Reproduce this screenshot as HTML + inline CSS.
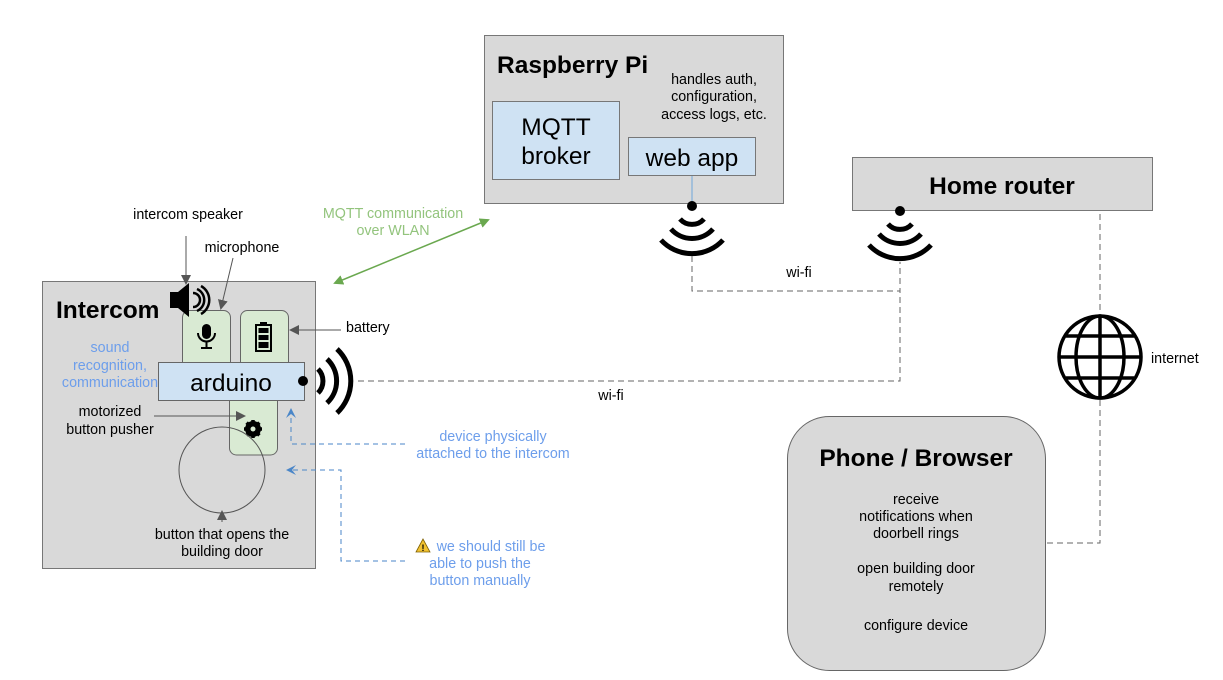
<!DOCTYPE html>
<html><head><meta charset="utf-8"><style>
body{margin:0;background:#fff}
svg{display:block;font-family:"Liberation Sans",Arial,sans-serif}
</style></head><body>
<svg width="1223" height="680" viewBox="0 0 1223 680" xmlns="http://www.w3.org/2000/svg">
<defs>
<marker id="ag" markerWidth="10" markerHeight="10" refX="8" refY="5" orient="auto-start-reverse" markerUnits="userSpaceOnUse"><path d="M0,0 L10,5 L0,10 z" fill="#6aa84f"/></marker>
<marker id="ak" markerWidth="10" markerHeight="10" refX="8" refY="5" orient="auto" markerUnits="userSpaceOnUse"><path d="M0,0 L10,5 L0,10 z" fill="#555"/></marker>
<marker id="ab" markerWidth="10" markerHeight="10" refX="8" refY="5" orient="auto" markerUnits="userSpaceOnUse"><path d="M0,0 L10,5 L0,10 L4,5 z" fill="#4a86c8"/></marker>
</defs>

<!-- Intercom -->
<rect x="42.5" y="281.5" width="273" height="287" fill="#d9d9d9" stroke="#777"/>
<text x="56" y="318" font-size="24.5" font-weight="bold">Intercom</text>
<rect x="182.5" y="310.5" width="48" height="60" rx="7" fill="#d9ead3" stroke="#666"/>
<rect x="240.5" y="310.5" width="48" height="60" rx="7" fill="#d9ead3" stroke="#666"/>
<rect x="229.5" y="392" width="48" height="63" rx="7" fill="#d9ead3" stroke="#666"/>
<rect x="158.5" y="362.5" width="146" height="38" fill="#cfe2f3" stroke="#666"/>
<text x="231" y="391" font-size="24.5" text-anchor="middle">arduino</text>
<!-- mic -->
<rect x="202" y="324" width="9" height="15" rx="4.5" fill="#000"/>
<path d="M198,333 a8.5,8.5 0 0 0 17,0" fill="none" stroke="#000" stroke-width="2"/>
<line x1="206.5" y1="341" x2="206.5" y2="348" stroke="#000" stroke-width="2"/>
<line x1="201" y1="348" x2="212" y2="348" stroke="#000" stroke-width="2"/>
<!-- battery -->
<rect x="256" y="325" width="15" height="26" fill="none" stroke="#000" stroke-width="2"/>
<rect x="260" y="322" width="7" height="3" fill="#000"/>
<rect x="258.5" y="328" width="10" height="5" fill="#000"/>
<rect x="258.5" y="335" width="10" height="5" fill="#000"/>
<rect x="258.5" y="342" width="10" height="6" fill="#000"/>
<!-- gear -->
<g transform="translate(253,429)">
<circle r="6" fill="none" stroke="#000" stroke-width="4"/>
<g stroke="#000" stroke-width="3.5">
<line x1="0" y1="-9" x2="0" y2="9"/><line x1="-9" y1="0" x2="9" y2="0"/>
<line x1="-6.4" y1="-6.4" x2="6.4" y2="6.4"/><line x1="-6.4" y1="6.4" x2="6.4" y2="-6.4"/>
</g><circle r="2.5" fill="#d9ead3"/></g>
<!-- speaker -->
<path d="M170,292 h8 l11,-9 v34 l-11,-9 h-8 z" fill="#000"/>
<path d="M193,293 a7,7 0 0 1 0,14" fill="none" stroke="#000" stroke-width="2.5"/>
<path d="M197,289 a12,12 0 0 1 0,22" fill="none" stroke="#000" stroke-width="2.5"/>
<path d="M201,286 a16,16 0 0 1 0,28" fill="none" stroke="#000" stroke-width="2.5"/>
<!-- circle button -->
<circle cx="222" cy="470" r="43" fill="none" stroke="#555"/>
<!-- arduino wifi -->
<circle cx="303" cy="381" r="5" fill="#000"/>
<g fill="none" stroke="#000" stroke-width="5">
<path d="M318,369 a17,17 0 0 1 0,24"/>
<path d="M327,359 a30,30 0 0 1 0,44"/>
<path d="M337,349 a44,44 0 0 1 0,64"/>
</g>
<text x="110" y="352" font-size="14.3" fill="#6d9eeb" text-anchor="middle">sound</text>
<text x="110" y="370" font-size="14.3" fill="#6d9eeb" text-anchor="middle">recognition,</text>
<text x="110" y="387" font-size="14.3" fill="#6d9eeb" text-anchor="middle">communication</text>
<text x="110" y="416" font-size="14.3" text-anchor="middle">motorized</text>
<text x="110" y="434" font-size="14.3" text-anchor="middle">button pusher</text>
<line x1="154" y1="416" x2="244" y2="416" stroke="#555" marker-end="url(#ak)"/>
<text x="222" y="539" font-size="14.3" text-anchor="middle">button that opens the</text>
<text x="222" y="556" font-size="14.3" text-anchor="middle">building door</text>
<line x1="222" y1="522" x2="222" y2="512" stroke="#555" marker-end="url(#ak)"/>
<text x="188" y="219" font-size="14.3" text-anchor="middle">intercom speaker</text>
<line x1="186" y1="236" x2="186" y2="283" stroke="#555" marker-end="url(#ak)"/>
<text x="242" y="252" font-size="14.3" text-anchor="middle">microphone</text>
<line x1="233" y1="258" x2="221" y2="308" stroke="#555" marker-end="url(#ak)"/>
<text x="346" y="332" font-size="14.3">battery</text>
<line x1="341" y1="330" x2="291" y2="330" stroke="#555" marker-end="url(#ak)"/>

<!-- Raspberry Pi -->
<rect x="484.5" y="35.5" width="299" height="168" fill="#d9d9d9" stroke="#777"/>
<text x="497" y="73" font-size="24.5" font-weight="bold">Raspberry Pi</text>
<text x="714" y="84" font-size="14.3" text-anchor="middle">handles auth,</text>
<text x="714" y="101" font-size="14.3" text-anchor="middle">configuration,</text>
<text x="714" y="119" font-size="14.3" text-anchor="middle">access logs, etc.</text>
<rect x="492.5" y="101.5" width="127" height="78" fill="#cfe2f3" stroke="#777"/>
<text x="556" y="135" font-size="24.5" text-anchor="middle">MQTT</text>
<text x="556" y="164" font-size="24.5" text-anchor="middle">broker</text>
<rect x="628.5" y="137.5" width="127" height="38" fill="#cfe2f3" stroke="#777"/>
<text x="692" y="166" font-size="24.5" text-anchor="middle">web app</text>
<line x1="692" y1="176" x2="692" y2="205" stroke="#6fa8dc"/>
<!-- Pi wifi -->
<circle cx="692" cy="206" r="5" fill="#000"/>
<g fill="none" stroke="#000" stroke-width="5">
<path d="M680,219 a16,16 0 0 0 24,0"/>
<path d="M671,229 a28,28 0 0 0 42,0"/>
<path d="M661,240 a42,42 0 0 0 62,0"/>
</g>

<!-- Home router -->
<rect x="852.5" y="157.5" width="300" height="53" fill="#d9d9d9" stroke="#777"/>
<text x="1002" y="194" font-size="24.5" font-weight="bold" text-anchor="middle">Home router</text>
<circle cx="900" cy="211" r="5" fill="#000"/>
<g fill="none" stroke="#000" stroke-width="5">
<path d="M888,224 a16,16 0 0 0 24,0"/>
<path d="M879,234 a28,28 0 0 0 42,0"/>
<path d="M869,245 a42,42 0 0 0 62,0"/>
</g>

<!-- dashed network lines -->
<g fill="none" stroke="#666" stroke-dasharray="6,4">
<path d="M692,256 V291 H900 V262"/>
<path d="M358,381 H900 V291"/>
<path d="M1100,214 V315"/>
<path d="M1100,400 V543 H1046"/>
</g>
<text x="799" y="277" font-size="14.3" text-anchor="middle">wi-fi</text>
<text x="611" y="400" font-size="14.3" text-anchor="middle">wi-fi</text>

<!-- globe -->
<g fill="none" stroke="#000" stroke-width="3.5">
<circle cx="1100" cy="357" r="41"/>
<ellipse cx="1100" cy="357" rx="24" ry="41"/>
<line x1="1100" y1="316" x2="1100" y2="398"/>
<line x1="1059" y1="357" x2="1141" y2="357"/>
<line x1="1066" y1="336" x2="1134" y2="336"/>
<line x1="1066" y1="378" x2="1134" y2="378"/>
</g>
<text x="1151" y="363" font-size="14.3">internet</text>

<!-- Phone -->
<rect x="787.5" y="416.5" width="258" height="254" rx="42" fill="#d9d9d9" stroke="#666"/>
<text x="916" y="466" font-size="24.5" font-weight="bold" text-anchor="middle">Phone / Browser</text>
<g font-size="14.3" text-anchor="middle">
<text x="916" y="504">receive</text>
<text x="916" y="521">notifications when</text>
<text x="916" y="538">doorbell rings</text>
<text x="916" y="573">open building door</text>
<text x="916" y="591">remotely</text>
<text x="916" y="630">configure device</text>
</g>

<!-- MQTT green -->
<line x1="335" y1="283" x2="488" y2="220" stroke="#6aa84f" stroke-width="1.5" marker-start="url(#ag)" marker-end="url(#ag)"/>
<text x="393" y="218" font-size="14.3" fill="#93c47d" text-anchor="middle">MQTT communication</text>
<text x="393" y="235" font-size="14.3" fill="#93c47d" text-anchor="middle">over WLAN</text>

<!-- blue dashed annotations -->
<g fill="none" stroke="#4a86c8" stroke-dasharray="5,4">
<path d="M405,444 H291 V410" marker-end="url(#ab)"/>
<path d="M405,561 H341 V470 H288" marker-end="url(#ab)"/>
</g>
<text x="493" y="441" font-size="14.3" fill="#6d9eeb" text-anchor="middle">device physically</text>
<text x="493" y="458" font-size="14.3" fill="#6d9eeb" text-anchor="middle">attached to the intercom</text>
<path d="M423,539 l-7,13 h14 z" fill="#f1c232" stroke="#7f6000" stroke-width="0.8"/>
<text x="423" y="551" font-size="9" font-weight="bold" text-anchor="middle">!</text>
<text x="491" y="551" font-size="14.3" fill="#6d9eeb" text-anchor="middle">we should still be</text>
<text x="480" y="568" font-size="14.3" fill="#6d9eeb" text-anchor="middle">able to push the</text>
<text x="480" y="585" font-size="14.3" fill="#6d9eeb" text-anchor="middle">button manually</text>
</svg>
</body></html>
